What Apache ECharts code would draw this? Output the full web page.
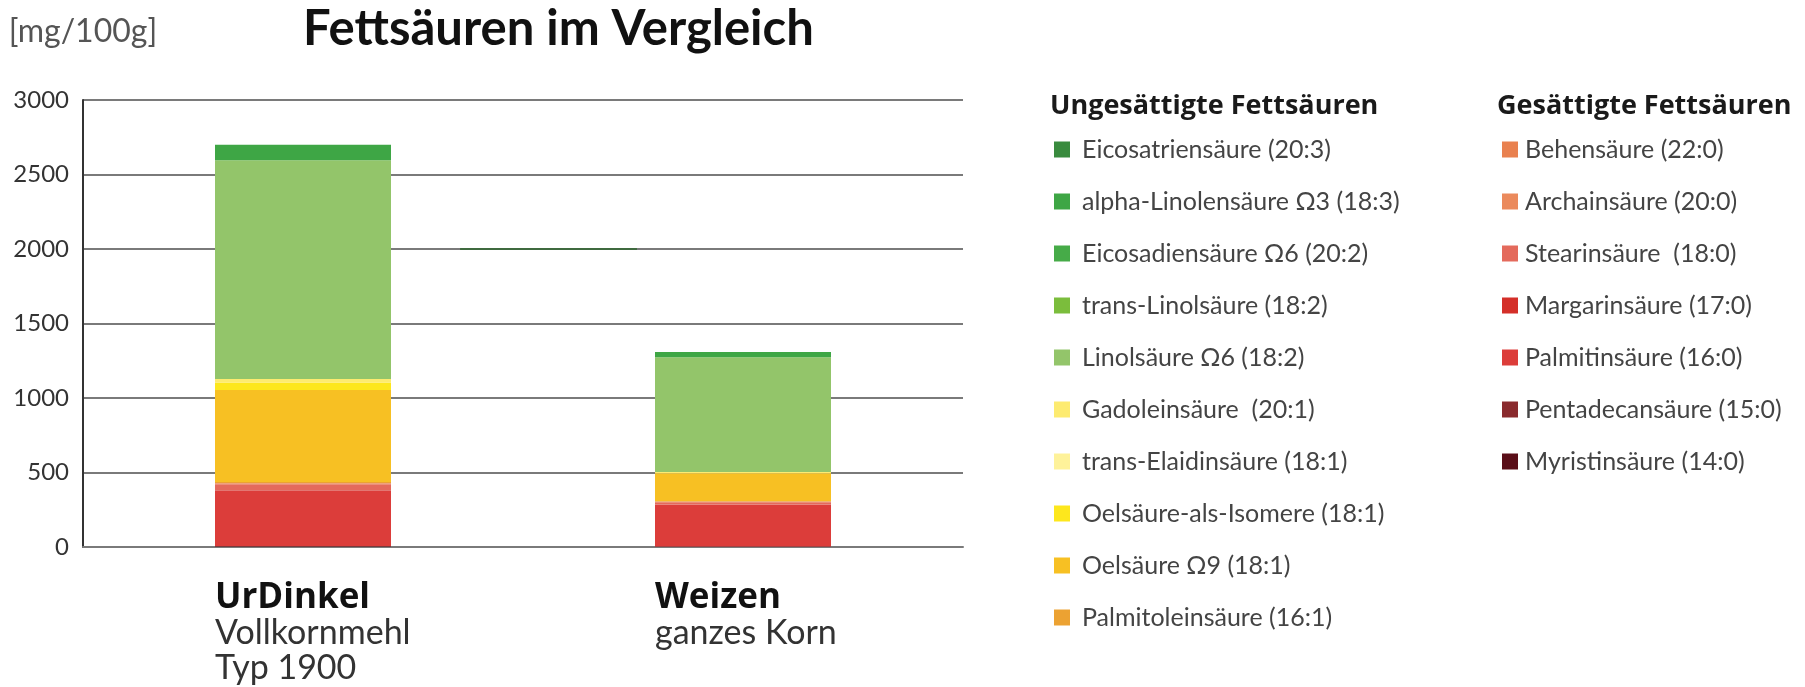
<!DOCTYPE html>
<html>
<head>
<meta charset="utf-8">
<title>Fettsäuren im Vergleich</title>
<script src="https://cdn.jsdelivr.net/npm/echarts@6/dist/echarts.min.js"></script>
<style>
    html, body { margin: 0; padding: 0; background: #fff; }
    #main { width: 1805px; height: 687px; }
</style>
</head>
<body>
<div id="main"></div>
<script>
    // Kategorien (x-Achse)
    var categories = ['UrDinkel', 'Weizen'];
    var categoryNotes = [['Vollkornmehl', 'Typ 1900'], ['ganzes Korn']];

    // Legendenspalten
    var unsaturatedNames = [
        'Eicosatriensäure (20:3)',
        'alpha-Linolensäure Ω3 (18:3)',
        'Eicosadiensäure Ω6 (20:2)',
        'trans-Linolsäure (18:2)',
        'Linolsäure Ω6 (18:2)',
        'Gadoleinsäure  (20:1)',
        'trans-Elaidinsäure (18:1)',
        'Oelsäure-als-Isomere (18:1)',
        'Oelsäure Ω9 (18:1)',
        'Palmitoleinsäure (16:1)'
    ];
    var saturatedNames = [
        'Behensäure (22:0)',
        'Archainsäure (20:0)',
        'Stearinsäure  (18:0)',
        'Margarinsäure (17:0)',
        'Palmitinsäure (16:0)',
        'Pentadecansäure (15:0)',
        'Myristinsäure (14:0)'
    ];

    // Werte in mg/100g  [UrDinkel, Weizen]
    var eicosatrien = [0, 0];
    var alphaLinolen = [102, 33];
    var eicosadien = [3, 2];
    var transLinol = [0, 0];
    var linol = [1468, 770];
    var gadolein = [23, 8];
    var transElaidin = [0, 0];
    var oelIsomere = [50, 0];
    var oel = [618, 186];
    var palmitolein = [6, 4];
    var behen = [4, 2];
    var archain = [5, 3];
    var stearin = [40, 14];
    var margarin = [3, 2];
    var palmitin = [372, 280];
    var pentadecan = [2, 1];
    var myristin = [4, 3];

    // der kurze Strich bei 2000 zwischen den Balken
    var strayX = [0.357, 0.759];
    var strayY = [2000, 2000];

    var yTicks = [0, 500, 1000, 1500, 2000, 2500, 3000];

    // Reihenfolge von unten nach oben im Stapel
    var stackOrder = [
        [saturatedNames[6], myristin, '#5a0e18'],
        [saturatedNames[5], pentadecan, '#8a2a2d'],
        [saturatedNames[4], palmitin, '#dc3d3a'],
        [saturatedNames[3], margarin, '#d42f29'],
        [saturatedNames[2], stearin, '#e46a5c'],
        [saturatedNames[1], archain, '#eb8a5c'],
        [saturatedNames[0], behen, '#e9814f'],
        [unsaturatedNames[9], palmitolein, '#eca232'],
        [unsaturatedNames[8], oel, '#f7c023'],
        [unsaturatedNames[7], oelIsomere, '#fde71d'],
        [unsaturatedNames[6], transElaidin, '#fef29a'],
        [unsaturatedNames[5], gadolein, '#fdeb70'],
        [unsaturatedNames[4], linol, '#93c56a'],
        [unsaturatedNames[3], transLinol, '#7bbd3c'],
        [unsaturatedNames[2], eicosadien, '#46ab48'],
        [unsaturatedNames[1], alphaLinolen, '#3ea645'],
        [unsaturatedNames[0], eicosatrien, '#398b3e']
    ];

    var series = [];
    for (var i = 0; i < stackOrder.length; i++) {
        series.push({
            name: stackOrder[i][0],
            type: 'bar',
            stack: 'fett',
            barWidth: '40%',
            color: stackOrder[i][2],
            data: stackOrder[i][1]
        });
    }
    var strayData = [];
    for (var i = 0; i < strayX.length; i++) {
        strayData.push([strayX[i], strayY[i]]);
    }
    series.push({
        name: 'strich',
        type: 'line',
        xAxisIndex: 1,
        symbol: 'none',
        silent: true,
        lineStyle: { color: '#3f6a3f', width: 2 },
        data: strayData
    });

    var myChart = echarts.init(document.getElementById('main'));
    myChart.setOption({
        animation: false,
        textStyle: { fontFamily: 'Lato' },
        title: [
            {
                text: 'Fettsäuren im Vergleich',
                left: 303, top: 5, padding: 0,
                textStyle: { fontFamily: 'Lato', fontWeight: 'bold', fontSize: 49, color: '#111' }
            },
            {
                text: 'Ungesättigte Fettsäuren',
                left: 1050, top: 93, padding: 0,
                textStyle: { fontFamily: 'Open Sans', fontWeight: 'bold', fontSize: 27, color: '#1a1a1a' }
            },
            {
                text: 'Gesättigte Fettsäuren',
                left: 1497, top: 93, padding: 0,
                textStyle: { fontFamily: 'Open Sans', fontWeight: 'bold', fontSize: 27, color: '#1a1a1a' }
            }
        ],
        legend: [
            {
                data: unsaturatedNames,
                orient: 'vertical',
                left: 1054, top: 137, padding: 0,
                icon: 'rect',
                itemWidth: 16, itemHeight: 16, itemGap: 27,
                textStyle: { fontFamily: 'Lato', fontSize: 25, lineHeight: 20, color: '#444', padding: [0, 0, 0, 7] }
            },
            {
                data: saturatedNames,
                orient: 'vertical',
                left: 1502, top: 137, padding: 0,
                icon: 'rect',
                itemWidth: 16, itemHeight: 16, itemGap: 27,
                textStyle: { fontFamily: 'Lato', fontSize: 25, lineHeight: 20, color: '#444', padding: [0, 0, 0, 2] }
            }
        ],
        grid: { left: 83, right: 842, top: 100, bottom: 140, containLabel: false },
        xAxis: [
            {
                type: 'category',
                data: categories,
                axisTick: { show: false },
                axisLine: { lineStyle: { color: '#7a7a7a', width: 2 } },
                axisLabel: {
                    margin: 33,
                    formatter: function (value, idx) {
                        var s = '{b|' + value + '}';
                        var notes = categoryNotes[idx];
                        for (var k = 0; k < notes.length; k++) {
                            s += '\n{n|' + notes[k] + '}';
                        }
                        return s;
                    },
                    rich: {
                        b: { fontFamily: 'Open Sans', fontWeight: 'bold', fontSize: 35, color: '#111', width: 176, align: 'left', lineHeight: 36 },
                        n: { fontFamily: 'Lato', fontSize: 34, color: '#333', width: 176, align: 'left', lineHeight: 35 }
                    }
                }
            },
            {
                type: 'value',
                min: -0.5, max: 1.5,
                show: false
            }
        ],
        yAxis: {
            type: 'value',
            min: yTicks[0],
            max: yTicks[yTicks.length - 1],
            interval: yTicks[1] - yTicks[0],
            name: '[mg/100g]',
            nameGap: 52,
            nameTextStyle: { fontFamily: 'Lato', fontSize: 32, color: '#555' },
            axisLine: { show: true, onZero: false, lineStyle: { color: '#333', width: 2 } },
            axisTick: { show: false },
            axisLabel: {
                margin: 14, fontFamily: 'Lato', fontSize: 24, color: '#333',
                formatter: function (v) { return String(v); }
            },
            splitLine: { lineStyle: { color: '#7a7a7a', width: 2 } }
        },
        series: series
    });
</script>
</body>
</html>
